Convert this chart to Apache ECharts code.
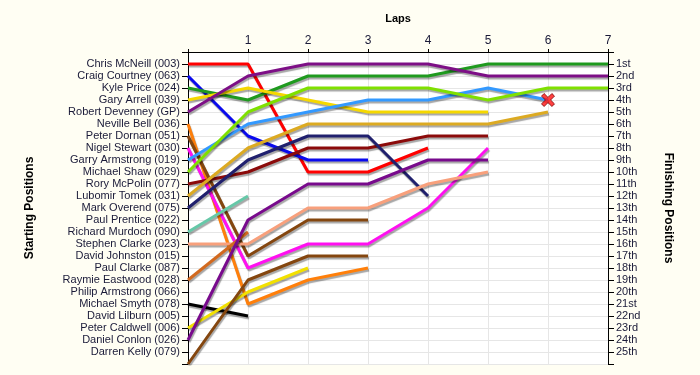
<!DOCTYPE html>
<html>
<head>
<meta charset="utf-8">
<script src="https://cdn.jsdelivr.net/npm/echarts@6/dist/echarts.min.js"></script>
<style>
html,body{margin:0;padding:0;background:#fffef3;}
#c{width:700px;height:375px;}
</style>
</head>
<body>
<div id="c"></div>
<script>
// Tick labels / categories
const lapLabels = ['', '1', '2', '3', '4', '5', '6', '7'];
const startNames = [
  'Chris McNeill (003)', 'Craig Courtney (063)', 'Kyle Price (024)', 'Gary Arrell (039)',
  'Robert Devenney (GP)', 'Neville Bell (036)', 'Peter Dornan (051)', 'Nigel Stewart (030)',
  'Garry Armstrong (019)', 'Michael Shaw (029)', 'Rory McPolin (077)', 'Lubomir Tomek (031)',
  'Mark Overend (075)', 'Paul Prentice (022)', 'Richard Murdoch (090)', 'Stephen Clarke (023)',
  'David Johnston (015)', 'Paul Clarke (087)', 'Raymie Eastwood (028)', 'Philip Armstrong (066)',
  'Michael Smyth (078)', 'David Lilburn (005)', 'Peter Caldwell (006)', 'Daniel Conlon (026)',
  'Darren Kelly (079)'
];
const finishLabels = [
  '1st','2nd','3rd','4th','5th','6th','7th','8th','9th','10th','11th','12th','13th',
  '14th','15th','16th','17th','18th','19th','20th','21st','22nd','23rd','24th','25th'
];

// Position per lap (index = lap number, starting at lap 0)
const mcneill    = [1, 1, 10, 10, 8];
const courtney   = [2, 7, 9, 9];
const price      = [3, 4, 2, 2, 2, 1, 1, 1];
const arrell     = [4, 3, 4, 5, 5, 5];
const devenney   = [5, 2, 1, 1, 1, 2, 2, 2];
const bell       = [6, 21, 19, 18];
const dornan     = [7, 17, 14, 14];
const stewart    = [8, 18, 16, 16, 13, 8];
const gArmstrong = [9, 6, 5, 4, 4, 3, 4];
const shaw       = [10, 5, 3, 3, 3, 4, 3, 3];
const mcpolin    = [11, 10, 8, 8, 7, 7];
const tomek      = [12, 8, 6, 6, 6, 6, 5];
const overend    = [13, 9, 7, 7, 12];
const murdoch    = [15, 12];
const sClarke    = [16, 16, 13, 13, 11, 10];
const eastwood   = [19, 15];
const smyth      = [21, 22];
const caldwell   = [23, 20, 18];
const conlon     = [24, 14, 11, 11, 9, 9];
const kelly      = [26, 19, 17, 17];

const drivers = [
  ['Chris McNeill', mcneill, '#ff0000'],
  ['Craig Courtney', courtney, '#0a0aee'],
  ['Kyle Price', price, '#1f9a1f'],
  ['Gary Arrell', arrell, '#f5d800'],
  ['Robert Devenney', devenney, '#7d0f86'],
  ['Neville Bell', bell, '#ff7f0a'],
  ['Peter Dornan', dornan, '#84460f'],
  ['Nigel Stewart', stewart, '#ff10f0'],
  ['Garry Armstrong', gArmstrong, '#3399ff'],
  ['Michael Shaw', shaw, '#7fe000'],
  ['Rory McPolin', mcpolin, '#8b0a0a'],
  ['Lubomir Tomek', tomek, '#dcaa22'],
  ['Mark Overend', overend, '#20206e'],
  ['Richard Murdoch', murdoch, '#66c8a8'],
  ['Stephen Clarke', sClarke, '#f8a07c'],
  ['Raymie Eastwood', eastwood, '#d2691e'],
  ['Michael Smyth', smyth, '#000000'],
  ['Peter Caldwell', caldwell, '#f2e000'],
  ['Daniel Conlon', conlon, '#780a8c'],
  ['Darren Kelly', kelly, '#84460f']
];

const textColor = '#1a1a38';
const series = drivers.map(d => ({
  name: d[0],
  type: 'line',
  data: d[1].map((p, i) => [i, p]),
  showSymbol: false,
  symbol: 'none',
  silent: true,
  lineStyle: {
    color: d[2], width: 3,
    shadowColor: 'rgba(0,0,0,0.35)', shadowBlur: 1, shadowOffsetX: 1, shadowOffsetY: 2
  },
  z: 3
}));

// retirement marker on last point of Garry Armstrong
series.push({
  type: 'scatter',
  data: [[gArmstrong.length - 1, gArmstrong[gArmstrong.length - 1]]],
  symbol: 'path://M2,0 L5,3 L8,0 L10,2 L7,5 L10,8 L8,10 L5,7 L2,10 L0,8 L3,5 L0,2 Z',
  symbolSize: 13,
  itemStyle: { color: '#ff1010', borderColor: '#7a0000', borderWidth: 1 },
  silent: true,
  z: 5
});

const chart = echarts.init(document.getElementById('c'), null, { renderer: 'canvas' });
chart.setOption({
  backgroundColor: '#fffef3',
  animation: false,
  textStyle: { fontFamily: 'Liberation Sans' },
  grid: { left: 188, right: 92, top: 52, bottom: 11, show: true, backgroundColor: '#ffffff', borderWidth: 0 },
  xAxis: {
    type: 'value', position: 'top', min: 0, max: 7, interval: 1,
    name: 'Laps', nameLocation: 'middle', nameGap: 28,
    nameTextStyle: { fontWeight: 'bold', fontSize: 11, color: '#000' },
    axisLine: { show: true, lineStyle: { color: '#000', width: 1 } },
    axisTick: { show: true, length: 3, lineStyle: { color: '#000' } },
    axisLabel: { margin: 5, fontSize: 12, color: textColor, formatter: v => lapLabels[v] || '' },
    splitLine: { show: true, lineStyle: { color: '#e6e6e6', width: 1 } }
  },
  yAxis: [
    {
      type: 'value', inverse: true, min: 0, max: 26, interval: 1, position: 'left',
      name: 'Starting Positions', nameLocation: 'middle', nameGap: 152,
      nameTextStyle: { fontWeight: 'bold', fontSize: 12, color: '#000' },
      axisLine: { show: true, onZero: false, lineStyle: { color: '#000', width: 1 } },
      axisTick: { show: true, length: 6, lineStyle: { color: '#000' } },
      axisLabel: { margin: 8, fontSize: 11, color: textColor, formatter: v => startNames[v - 1] || '' },
      splitLine: { show: true, lineStyle: { color: '#e6e6e6', width: 1 } }
    },
    {
      type: 'value', inverse: true, min: 0, max: 26, interval: 1, position: 'right',
      name: 'Finishing Positions', nameLocation: 'middle', nameGap: 54, nameRotate: -90,
      nameTextStyle: { fontWeight: 'bold', fontSize: 12, color: '#000' },
      axisLine: { show: true, onZero: false, lineStyle: { color: '#000', width: 1 } },
      axisTick: { show: true, length: 6, lineStyle: { color: '#000' } },
      axisLabel: { margin: 8, fontSize: 11, color: textColor, formatter: v => finishLabels[v - 1] || '' },
      splitLine: { show: false }
    }
  ],
  series: series
});
</script>
</body>
</html>
